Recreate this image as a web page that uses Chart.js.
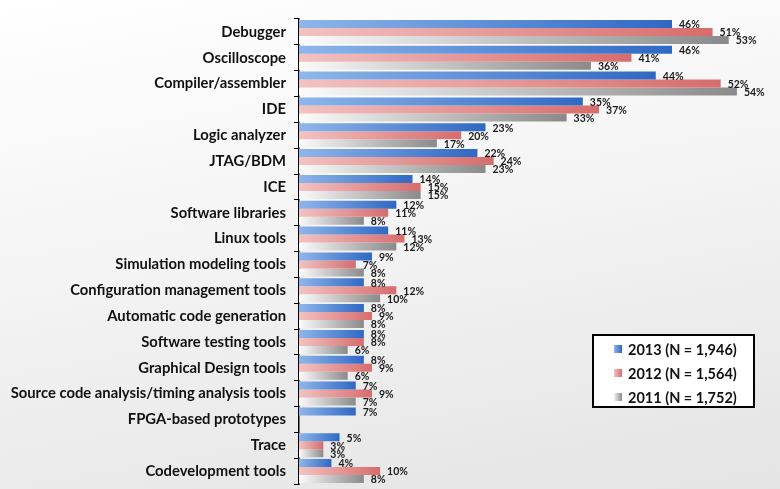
<!DOCTYPE html>
<html>
<head>
<meta charset="utf-8">
<script src="https://cdn.jsdelivr.net/npm/chart.js@4.4.0/dist/chart.umd.min.js"></script>
<style>
  html, body { margin: 0; padding: 0; }
  body { width: 780px; height: 489px; background: linear-gradient(170deg, #ffffff 0%, #f4f4f4 45%, #e4e4e4 100%); }
  #wrap { position: relative; width: 780px; height: 489px; }
</style>
</head>
<body>
<div id="wrap"><canvas id="tools" width="780" height="489"></canvas></div>
<script>
(function(){
    var categories = ['Debugger', 'Oscilloscope', 'Compiler/assembler', 'IDE', 'Logic analyzer',
        'JTAG/BDM', 'ICE', 'Software libraries', 'Linux tools', 'Simulation modeling tools',
        'Configuration management tools', 'Automatic code generation', 'Software testing tools',
        'Graphical Design tools', 'Source code analysis/timing analysis tools',
        'FPGA-based prototypes', 'Trace', 'Codevelopment tools'];
    var y2013 = [46, 46, 44, 35, 23, 22, 14, 12, 11, 9, 8, 8, 8, 8, 7, 7, 5, 4];
    var y2012 = [51, 41, 52, 37, 20, 24, 15, 11, 13, 7, 12, 9, 8, 9, 9, null, 3, 10];
    var y2011 = [53, 36, 54, 33, 17, 23, 15, 8, 12, 8, 10, 8, 6, 6, 7, null, 3, 8];
    var seriesNames = ['2013 (N = 1,946)', '2012 (N = 1,564)', '2011 (N = 1,752)'];

    var labelFont = 'Lato, "Open Sans", sans-serif';

    // each bar fades from light (left) to dark (at its own end)
    function fade(c0, c1){
        return function(ctx){
            var chart = ctx.chart;
            var area = chart.chartArea;
            if (!area || ctx.raw == null) return c1;
            var end = chart.scales.x.getPixelForValue(ctx.raw);
            if (end - area.left < 2) return c1;
            var g = chart.ctx.createLinearGradient(area.left, 0, end, 0);
            g.addColorStop(0, c0);
            g.addColorStop(1, c1);
            return g;
        };
    }

    var valueLabels = {
        id: 'valueLabels',
        afterDatasetsDraw: function(chart){
            var c = chart.ctx;
            c.save();
            c.font = 'bold 10.5px ' + labelFont;
            c.fillStyle = '#1a1a1a';
            c.textBaseline = 'middle';
            chart.data.datasets.forEach(function(ds, i){
                chart.getDatasetMeta(i).data.forEach(function(bar, j){
                    if (ds.data[j] == null) return;
                    c.fillText(ds.data[j] + '%', bar.x + 7, bar.y + 1);
                });
            });
            c.restore();
        }
    };

    var boxLegend = {
        id: 'boxLegend',
        afterDraw: function(chart){
            var c = chart.ctx;
            var x = 593, y = 335, w = 161, h = 72;
            c.save();
            c.fillStyle = '#ffffff';
            c.fillRect(x, y, w, h);
            c.lineWidth = 2;
            c.strokeStyle = '#000000';
            c.strokeRect(x, y, w, h);
            var marks = [['#8fb6ea', '#2f68c4'], ['#f3c2c2', '#d76c6c'], ['#f4f4f4', '#8a8a8a']];
            c.font = 'bold 14.5px ' + labelFont;
            c.textBaseline = 'middle';
            seriesNames.forEach(function(name, i){
                var ly = y + 14 + i * 24;
                var g = c.createLinearGradient(x + 21, 0, x + 29, 0);
                g.addColorStop(0, marks[i][0]);
                g.addColorStop(1, marks[i][1]);
                c.fillStyle = g;
                c.fillRect(x + 21, ly - 4, 8, 8);
                c.fillStyle = '#111111';
                c.fillText(name, x + 35, ly + 1);
            });
            c.restore();
        }
    };

    var canvas = document.getElementById('tools');
    new Chart(canvas, {
        type: 'bar',
        data: {
            labels: categories,
            datasets: [
                { label: seriesNames[0], data: y2013, backgroundColor: fade('#8fb6ea', '#2f68c4') },
                { label: seriesNames[1], data: y2012, backgroundColor: fade('#f3c2c2', '#d76c6c') },
                { label: seriesNames[2], data: y2011, backgroundColor: fade('#fbfbfb', '#8a8a8a') }
            ]
        },
        options: {
            indexAxis: 'y',
            responsive: false,
            animation: false,
            maintainAspectRatio: false,
            layout: { padding: { top: 19, bottom: 5, right: 35, left: 0 } },
            datasets: { bar: { categoryPercentage: 0.93, barPercentage: 1.0 } },
            scales: {
                x: {
                    display: false,
                    min: 0,
                    max: 55
                },
                y: {
                    afterFit: function(scale){
                        scale.width = 299;
                        scale.paddingTop = 0;
                        scale.paddingBottom = 0;
                    },
                    grid: { drawOnChartArea: false, tickLength: 5, color: '#000', tickColor: '#000', offset: true },
                    border: { color: '#000', width: 1.5 },
                    ticks: {
                        color: '#111',
                        padding: 8,
                        autoSkip: false,
                        font: { family: labelFont, weight: 'bold', size: 14.8 }
                    }
                }
            },
            plugins: {
                legend: { display: false },
                tooltip: { enabled: false }
            }
        },
        plugins: [valueLabels, boxLegend]
    });
})();
</script>
</body>
</html>
